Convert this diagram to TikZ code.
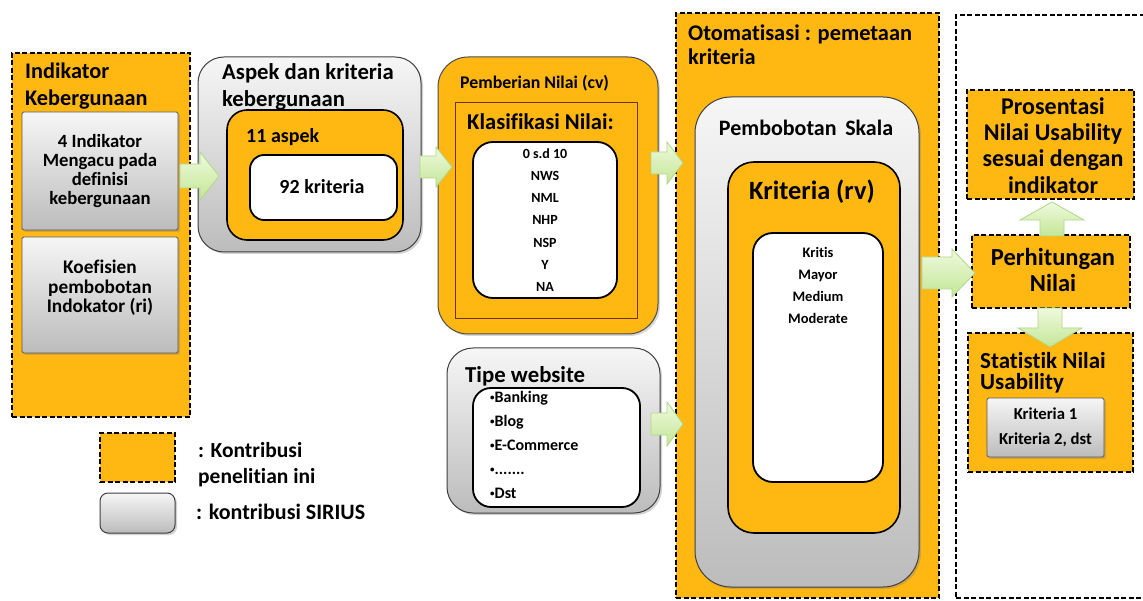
\documentclass[tikz,border=0pt]{standalone}
\usepackage{fontspec}
\setmainfont{Carlito}[Ligatures=NoCommon]
\usetikzlibrary{shadows}
\definecolor{org}{RGB}{255,183,18}
\definecolor{grtop}{RGB}{246,246,246}
\definecolor{grbot}{RGB}{188,188,188}
\definecolor{agtop}{RGB}{238,250,222}
\definecolor{agbot}{RGB}{196,230,150}
\definecolor{agline}{RGB}{178,215,135}
\definecolor{brn}{RGB}{110,50,20}
\newcommand\fs[2]{\fontsize{#1}{#2}\selectfont\bfseries}
\newcommand\bul{{\fontsize{9}{9}\selectfont\raisebox{0.35ex}{•}}}
\newcommand\bx[6]{\node[#2, anchor=north west, inner sep=0pt, outer sep=0pt,
  minimum width={(#5-#3)*1pt}, minimum height={(#6-#4)*1pt}] (#1) at (#3,#4) {};}
\newcommand\harrow[6]{\draw[blockarrow] (#1,#3-#4) -- (#2-#6,#3-#4) -- (#2-#6,#3-#5) -- (#2,#3)
  -- (#2-#6,#3+#5) -- (#2-#6,#3+#4) -- (#1,#3+#4) -- cycle;}
\newcommand\varrow[6]{\draw[blockarrow] (#1-#5,#2) -- (#1-#5,#3) -- (#1-#6,#3) -- (#1,#4)
  -- (#1+#6,#3) -- (#1+#5,#3) -- (#1+#5,#2) -- cycle;}
\tikzset{
  dashbox/.style={draw=black, fill=org, line width=2.3pt, dash pattern=on 5pt off 2.5pt},
  dashwhite/.style={draw=black, fill=white, line width=2.3pt, dash pattern=on 5pt off 2.5pt},
  graybox/.style={draw=black!65, line width=0.8pt, top color=grtop, bottom color=grbot,
    rounded corners=1.5pt, drop shadow={opacity=0.35, shadow xshift=2pt, shadow yshift=-2pt}},
  grayround/.style={draw=black!75, line width=1pt, top color=grtop, bottom color=grbot,
    drop shadow={opacity=0.35, shadow xshift=2pt, shadow yshift=-2pt}},
  orground/.style={draw=black, line width=1.6pt, fill=org},
  whiteround/.style={draw=black, line width=1.8pt, fill=white},
  blockarrow/.style={draw=agline, line width=0.8pt, top color=agtop, bottom color=agbot},
  txt/.style={inner sep=0pt, text=black}
}
\begin{document}
\begin{tikzpicture}[x=1pt, y=-1pt]
\useasboundingbox (0,0) rectangle (1143,601);
\fill[white] (0,0) rectangle (1143,601);

% ---------- left: Indikator Kebergunaan ----------
\bx{ind}{dashbox}{12}{53}{190}{417}
\node[txt, anchor=west, align=left, font=\fs{22.3}{27}] (indt) at (25,86.5) {Indikator\\Kebergunaan};
\bx{g1}{graybox}{22}{112}{178}{230}
\node[txt, align=center, font=\fs{18.7}{19.3}] (g1t) at (g1.center) {4 Indikator\\Mengacu pada\\definisi\\kebergunaan};
\bx{g2}{graybox}{22}{237}{178}{353}
\node[txt, align=center, font=\fs{19.3}{19.5}] (g2t) at (100,288) {Koefisien\\pembobotan\\Indokator (ri)};

% ---------- Aspek ----------
\bx{asp}{grayround, rounded corners=26pt}{198}{57}{421}{252}
\node[txt, anchor=west, align=left, font=\fs{22.7}{27}] (aspt) at (222,86.5) {Aspek dan kriteria\\kebergunaan};
\bx{asp2}{orground, rounded corners=20pt}{227}{110}{403}{240}
\node[txt, anchor=west, font=\fs{20}{22}] (aspk) at (246,137) {11 aspek};
\bx{asp3}{whiteround, rounded corners=14pt}{250}{155}{397}{220}
\node[txt, font=\fs{20}{24}] (krt) at (322,187) {92 kriteria};

% ---------- Pemberian Nilai ----------
\bx{pem}{orground, draw=black!70, line width=1pt, rounded corners=30pt,
  drop shadow={opacity=0.3, shadow xshift=2pt, shadow yshift=-2pt}}{438}{57}{658}{334}
\node[txt, anchor=west, font=\fs{17.8}{20}] (pemt) at (460,83) {Pemberian Nilai (cv)};
\bx{kls}{draw=brn, line width=0.9pt}{455}{102}{637}{318}
\node[txt, anchor=west, font=\fs{22.6}{25}] (klst) at (467,122) {Klasifikasi Nilai:};
\bx{klsw}{whiteround, rounded corners=20pt}{473}{142}{617}{298}
\node[txt, align=center, font=\fs{14}{22.2}] (klsi) at (545,220) {0 s.d 10\\NWS\\NML\\NHP\\NSP\\Y\\NA};

% ---------- Tipe website ----------
\bx{tip}{grayround, rounded corners=26pt}{447}{348}{660}{513}
\node[txt, anchor=west, font=\fs{22.8}{25}] (tipt) at (465,376) {Tipe website};
\bx{tipw}{whiteround, rounded corners=18pt}{473}{388}{640}{507}
\node[txt, anchor=north west, align=left, font=\fs{16}{24}] (tipi) at (490,391) {\bul Banking\\\bul Blog\\\bul E-Commerce\\\bul .......\\\bul Dst};

% ---------- Otomatisasi ----------
\bx{oto}{dashbox}{676}{13}{939}{598}
\node[txt, anchor=west, align=left, font=\fs{22.4}{24}] (otot) at (688,45) {Otomatisasi : pemetaan\\kriteria};
\bx{pbs}{grayround, rounded corners=36pt}{695}{97}{919}{587}
\node[txt, font=\fs{22}{24}] (pbst) at (806,128) {Pembobotan\, Skala};
\bx{krv}{orground, rounded corners=26pt}{728}{162}{900}{533}
\node[txt, font=\fs{26.4}{28}] (krvt) at (812,192) {Kriteria (rv)};
\bx{krw}{whiteround, rounded corners=20pt}{753}{233}{883}{482}
\node[txt, align=center, font=\fs{14.5}{22.3}] (krwi) at (818,285.5) {Kritis\\Mayor\\Medium\\Moderate};

% ---------- right ----------
\bx{rgt}{dashwhite}{956}{15}{1160}{598}
\bx{pro}{dashbox}{967}{90}{1134}{199}
\node[txt, align=center, font=\fs{24}{26.2}] (prot) at (1053,145.5) {Prosentasi\\Nilai Usability\\sesuai dengan\\indikator};
\bx{per}{dashbox}{972}{235}{1130}{308}
\node[txt, align=center, font=\fs{24.5}{26}] (pert) at (1053,270) {Perhitungan\\Nilai};
\bx{sta}{dashbox}{968}{333}{1133}{472}
\node[txt, anchor=west, align=left, font=\fs{23}{21}] (stat) at (980,373) {Statistik Nilai\\Usability};
\bx{stg}{graybox}{987}{398}{1104}{457}
\node[txt, align=center, font=\fs{16.7}{24.5}] (stgt) at (stg.center) {Kriteria 1\\Kriteria 2, dst};

% ---------- legend ----------
\bx{lg1}{dashbox}{100}{433}{175}{482}
\node[txt, anchor=west, align=left, font=\fs{21.5}{26}] (lg1t) at (198,465) {: Kontribusi\\ penelitian ini};
\bx{lg2}{grayround, rounded corners=8pt}{100}{493}{175}{533}
\node[txt, anchor=west, font=\fs{22}{24}] (lg2t) at (196,512) {: kontribusi SIRIUS};

% ---------- block arrows ----------
\harrow{180}{219}{176}{12}{24}{19}
\harrow{420}{452}{167}{11}{20}{16}
\harrow{651}{683}{163}{11}{21}{16}
\harrow{651}{683}{424}{11}{22}{16}
\harrow{922}{975}{273}{16}{24}{23}
\varrow{1052}{236}{220}{202}{12}{32}
\varrow{1050}{308}{328}{347}{12}{32}
\end{tikzpicture}
\end{document}
